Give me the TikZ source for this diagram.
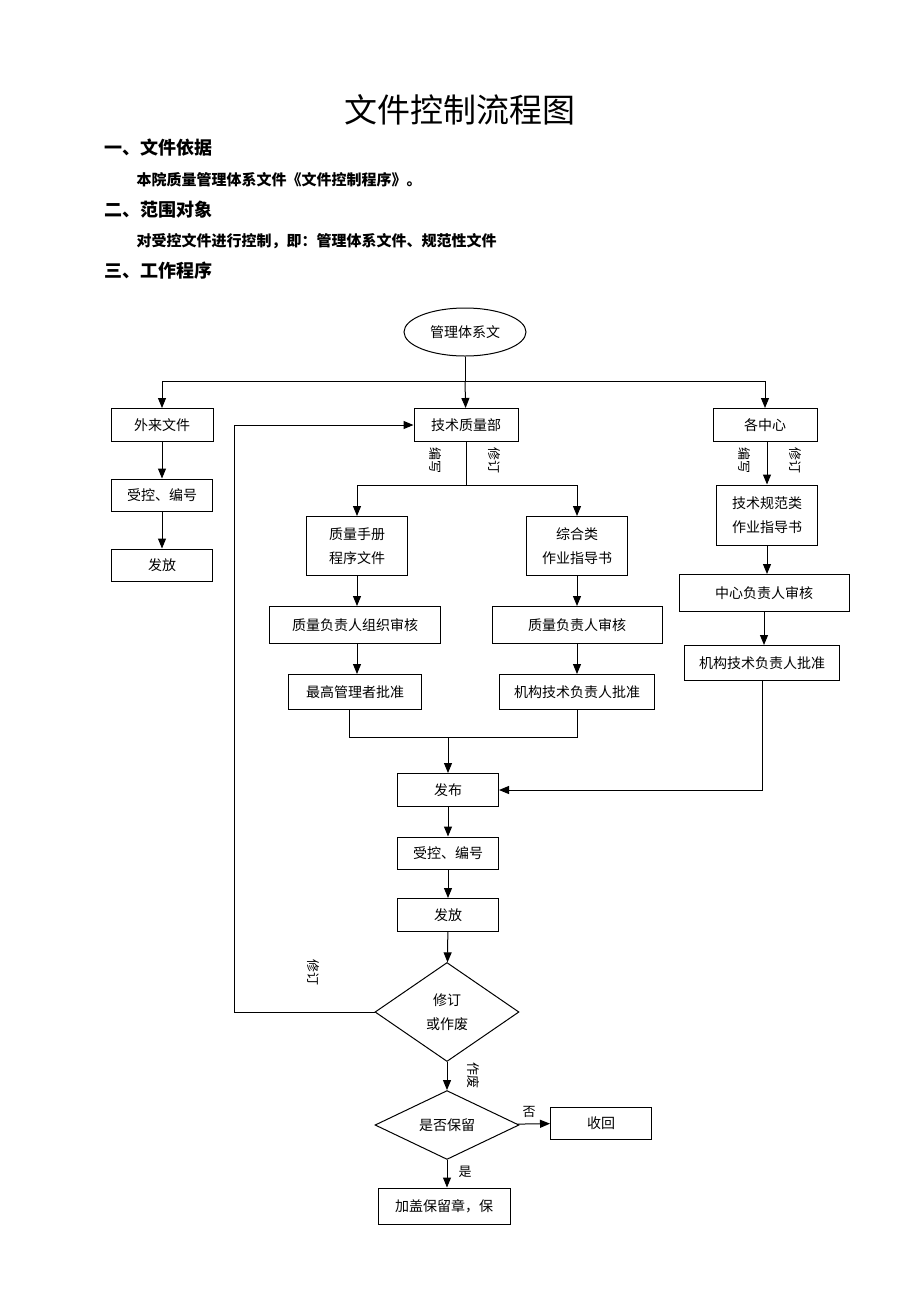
\documentclass[tikz,border=0pt]{standalone}
\usepackage{fontspec}
\usepackage{tikz}
\usetikzlibrary{shapes.geometric}
\usetikzlibrary{arrows.meta}
\newfontfamily\cjk{Noto Sans CJK SC}
\tikzset{flow box/.style={draw,rectangle,line width=1pt,inner sep=2pt,align=center,
                          font=\cjk\fontsize{14}{24}\selectfont}}
\tikzset{flow diamond/.style={draw,diamond,line width=1pt,inner sep=0pt,align=center,
                              font=\cjk\fontsize{14}{24}\selectfont}}
\tikzset{flow arrow/.style={line width=1pt,-{Triangle[length=10pt,width=8pt]}}}
\tikzset{flow line/.style={line width=1pt}}
\tikzset{side label/.style={font=\cjk\fontsize{13}{13}\selectfont,inner sep=0pt}}
\tikzset{heading/.style={anchor=west,font=\cjk\bfseries\fontsize{18}{18}\selectfont}}
\tikzset{body line/.style={anchor=west,font=\cjk\bfseries\fontsize{15}{15}\selectfont}}
\def\vtext#1{\rotatebox{-90}{#1}}

\begin{document}
\begin{tikzpicture}[x=1pt,y=-1pt]
            \useasboundingbox (0,0) rectangle (920,1302);

            % headings
            \node[font=\cjk\fontsize{33}{33}\selectfont] (title) at (460,110) {文件控制流程图};
            \node[heading] (secA) at (101,148) {一、文件依据};
            \node[body line] (secAtext) at (133,180) {本院质量管理体系文件《文件控制程序》。};
            \node[heading] (secB) at (101,210) {二、范围对象};
            \node[body line] (secBtext) at (133,241) {对受控文件进行控制，即：管理体系文件、规范性文件};
            \node[heading] (secC) at (101,271) {三、工作程序};

            % top
            \node[draw,ellipse,line width=1pt,minimum width=122pt,minimum height=48pt,
                  font=\cjk\fontsize{14}{14}\selectfont] (system) at (465,332) {管理体系文};

            % left column
            \node[flow box, minimum width=102pt, minimum height=33pt] (external) at (162,425) {外来文件};
            \node[flow box, minimum width=101pt, minimum height=32pt] (extNumber) at (162,495) {受控、编号};
            \node[flow box, minimum width=101pt, minimum height=32pt] (extIssue)  at (162,565) {发放};

            % middle column
            \node[flow box, minimum width=104pt, minimum height=33pt] (techDept) at (466,425) {技术质量部};
            \node[flow box, minimum width=101pt, minimum height=59pt] (manual)   at (357,546) {质量手册\\程序文件};
            \node[flow box, minimum width=101pt, minimum height=59pt] (general)  at (577,546) {综合类\\作业指导书};
            \node[flow box, minimum width=171pt, minimum height=37pt] (qaReviewOrg) at (355,625) {质量负责人组织审核};
            \node[flow box, minimum width=170pt, minimum height=37pt] (qaReview)    at (577,625) {质量负责人审核};
            \node[flow box, minimum width=133pt, minimum height=35pt] (topApprove)  at (355,692) {最高管理者批准};
            \node[flow box, minimum width=155pt, minimum height=35pt] (techApprove) at (577,692) {机构技术负责人批准};

            % right column
            \node[flow box, minimum width=104pt, minimum height=33pt] (centers)   at (765,425) {各中心};
            \node[flow box, minimum width=101pt, minimum height=60pt] (techSpec)  at (767,515) {技术规范类\\作业指导书};
            \node[flow box, minimum width=170pt, minimum height=37pt] (ctrReview) at (764,593) {中心负责人审核};
            \node[flow box, minimum width=155pt, minimum height=35pt] (ctrApprove) at (762,663) {机构技术负责人批准};

            % lower column
            \node[flow box, minimum width=101pt, minimum height=33pt] (publish) at (448,790) {发布};
            \node[flow box, minimum width=101pt, minimum height=32pt] (number)  at (448,853) {受控、编号};
            \node[flow box, minimum width=101pt, minimum height=33pt] (issue)   at (448,915) {发放};
            \node[flow diamond, minimum width=144pt, minimum height=99pt] (revise) at (447,1012) {修订\\或作废};
            \node[flow diamond, minimum width=144pt, minimum height=63pt] (keep)   at (447,1125) {是否保留};
            \node[flow box, minimum width=101pt, minimum height=32pt] (recall) at (601,1123) {收回};
            \node[flow box, minimum width=132pt, minimum height=36pt] (stamp)  at (444,1206) {加盖保留章，保};

            \coordinate (split)   at (465,381);
            \coordinate (techFork) at (466,485);
            \coordinate (merge)   at (448,737);

            % connectors
            \draw[flow line] (system) -- (split);
            \draw[flow line] (external.north |- split) -- (centers.north |- split);
            \draw[flow arrow] (external.north |- split) -- (external);
            \draw[flow arrow] (split) -- (techDept);
            \draw[flow arrow] (centers.north |- split) -- (centers);
            \draw[flow arrow] (external) -- (extNumber);
            \draw[flow arrow] (extNumber) -- (extIssue);

            \draw[flow line] (techDept) -- (techFork);
            \draw[flow line] (manual.north |- techFork) -- (general.north |- techFork);
            \draw[flow arrow] (manual.north |- techFork) -- (manual);
            \draw[flow arrow] (general.north |- techFork) -- (general);
            \draw[flow arrow] (manual) -- (manual |- qaReviewOrg.north);
            \draw[flow arrow] (general) -- (qaReview);
            \draw[flow arrow] (manual |- qaReviewOrg.south) -- (manual |- topApprove.north);
            \draw[flow arrow] (qaReview) -- (techApprove);
            \draw[flow line] (topApprove.south -| 349,0) -- (349,737) -- (577,737) -- (techApprove);
            \draw[flow arrow] (merge) -- (publish);

            \draw[flow arrow] (techSpec.north |- centers.south) -- (techSpec);
            \draw[flow arrow] (techSpec) -- (techSpec |- ctrReview.north);
            \draw[flow arrow] (ctrReview) -- (ctrReview |- ctrApprove.north);
            \draw[flow arrow] (ctrApprove) |- (publish);

            \draw[flow arrow] (publish) -- (number);
            \draw[flow arrow] (number) -- (issue);
            \draw[flow arrow] (issue) -- (revise);
            \draw[flow arrow] (revise.west) -- (234,1012) -- (234,425) -- (techDept);
            \draw[flow arrow] (revise) -- (keep);
            \draw[flow arrow] (keep) -- (recall);
            \draw[flow arrow] (keep) -- (keep |- stamp.north);

            % labels
            \node[side label] (techWrite)  at (436,460) {\vtext{编写}};
            \node[side label] (techRevise) at (494,460) {\vtext{修订}};
            \node[side label] (ctrWrite)   at (745,460) {\vtext{编写}};
            \node[side label] (ctrRevise)  at (795,460) {\vtext{修订}};
            \node[side label] (backRevise) at (313,972) {\vtext{修订}};
            \node[side label] (abolish)    at (473,1075) {\vtext{作废}};
            \node[side label] (no)  at (529,1112) {否};
            \node[side label] (yes) at (465,1172) {是};

          \end{tikzpicture}
\end{document}
